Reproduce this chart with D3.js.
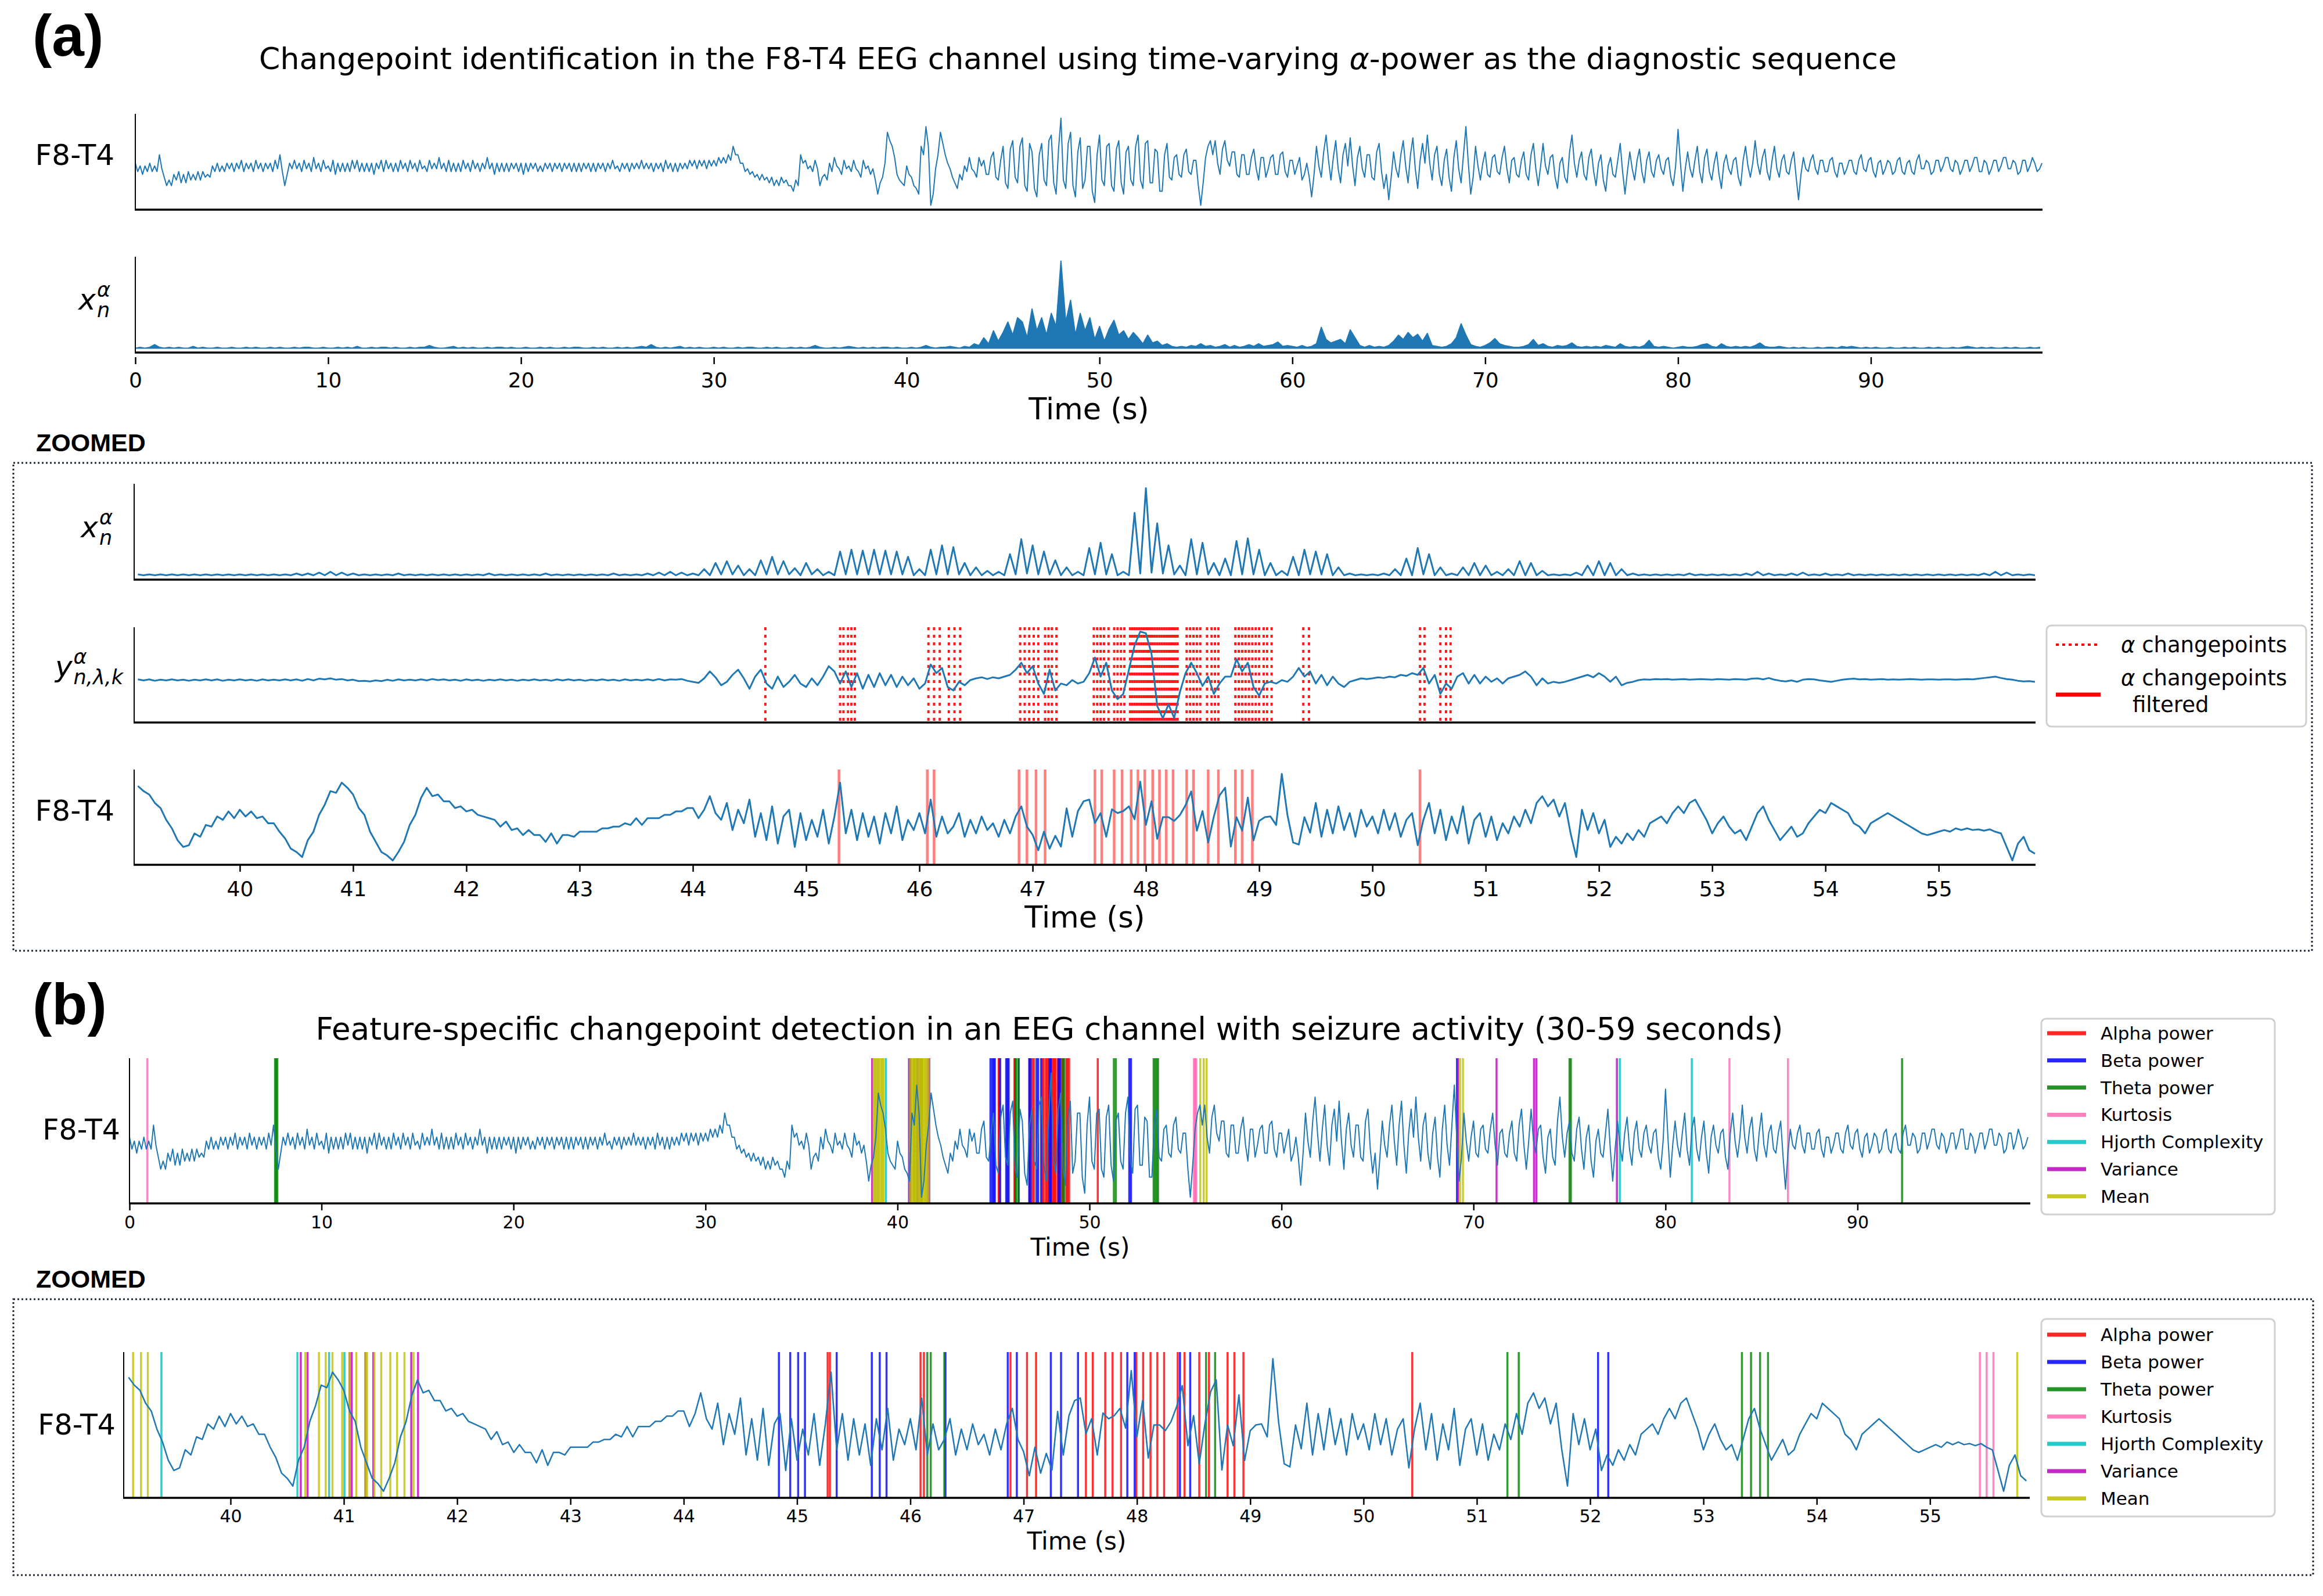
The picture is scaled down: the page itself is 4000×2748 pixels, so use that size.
<!DOCTYPE html>
<html>
<head>
<meta charset="utf-8">
<script src="https://cdnjs.cloudflare.com/ajax/libs/d3/7.8.5/d3.min.js"></script>
<style>
  body { margin: 0; background: #fff; }
  text { font-family: "DejaVu Sans", sans-serif; }
</style>
</head>
<body>
<svg id="chart" width="4000" height="2748"></svg>
<script>
// ---------- data ----------

// full recording, one value every 0.125 s from 0 s (one row of 8 per second)
const fullStart = 0, fullStep = 0.125;
const eegFull = [
  2,-1,1,-2,1,-1,2,-1, 1,-1,5,0,-3,-6,-4,-6, -2,-4,-1,-5,-2,-5,-1,-4, -2,-4,-1,-4,-1,-3,-2,-3,
  1,-1,2,-1,1,-1,2,0, 2,-1,2,0,3,-1,2,0, 2,-1,3,0,2,-1,2,0, 2,-1,3,0,5,-1,-6,-2,
  2,0,3,0,2,-1,3,0, 2,-1,4,0,2,-1,3,0, 1,-1,3,-2,2,-1,2,-1, 2,-1,3,0,3,-1,2,-1,
  2,-1,2,-2,2,0,3,-1, 3,0,2,-1,2,-1,3,0, 2,-1,3,0,2,-1,3,0, 1,-1,3,0,2,0,4,0,
  2,-1,3,-1,2,-1,2,-1, 3,0,2,-1,3,0,2,-1, 2,0,4,0,2,-2,2,-1, 2,-1,2,-1,2,0,2,-1,
  2,-2,2,-1,2,0,2,-1, 1,-1,2,0,2,-1,2,0, 2,-1,2,0,2,-1,2,-1, 2,-1,2,0,2,-1,2,-1,
  2,0,2,-1,2,0,3,0, 1,-1,2,0,2,-1,2,0, 2,0,3,0,2,0,2,-1, 2,0,2,-1,3,0,2,-1,
  2,-1,2,0,2,0,3,1, 3,0,3,1,3,0,3,1, 3,1,4,2,4,2,5,3, 8,5,5,2,2,-1,0,-2,
  -1,-3,-2,-4,-2,-4,-3,-5, -3,-6,-4,-6,-3,-5,-4,-6, -6,-8,-4,-6,5,2,3,0, 1,-1,3,0,-6,-3,-2,-4,
  2,-1,4,1,0,-2,3,0, 1,-1,3,0,-1,-3,3,0, 1,-2,0,-4,-9,-5,-3,2, 13,10,8,4,-2,-4,-5,-6,
  1,-2,-3,-6,-7,-9,8,5, 15,8,-13,-9,0,5,13,9, 5,2,0,-3,-5,-7,-2,-4, 1,-1,4,0,-1,-3,4,1,
  3,-2,-2,4,6,-3,-4,3, 8,-5,-7,7,10,-3,-5,8, 11,-6,-8,9,6,-7,-10,5, 9,-4,-6,10,12,-5,-9,7,
  18,-4,-7,9,13,-6,-10,6, 11,-7,-4,8,8,-8,-12,5, 12,-4,-6,8,9,-6,-8,7, 10,-5,-9,6,8,-4,-6,8,
  12,-4,-7,9,10,-5,-5,7, 6,-8,-8,5,9,-3,-4,4, 5,-2,-3,5,7,-1,-2,3, 3,-6,-13,-5,4,8,10,5,
  10,2,-2,7,10,3,1,6, 6,-2,-3,5,5,-2,-2,4, 7,0,-4,4,4,-3,0,4, 5,-2,-2,5,6,-1,-3,3,
  3,-2,1,4,-4,-2,2,-3, -10,-2,8,1,-3,6,12,3, -4,4,10,0,-5,5,9,1, 11,1,-6,4,8,0,-3,5,
  5,-3,-4,6,9,-1,-7,-2, -11,-3,6,0,-3,5,10,1, -5,5,11,0,-7,3,9,2, 12,2,-4,5,8,-2,-6,3,
  7,-3,-8,4,10,0,-5,5, 15,2,-9,-3,8,1,-4,2, 6,-2,-3,4,5,-1,-2,4, 8,0,-5,3,4,-2,-3,3,
  6,-2,-4,5,9,0,-6,1, 9,1,-2,4,5,-3,-7,2, 4,-3,-5,6,12,2,-3,3, 6,-2,-4,4,7,-1,-6,2,
  5,-4,-8,1,4,-2,-3,3, 9,-1,-9,-1,6,0,-4,3, 7,-1,-5,3,6,-1,-3,3, 5,0,-2,3,4,-3,-6,1,
  14,2,-8,0,6,0,-3,3, 8,-1,-5,4,7,-1,-4,2, 6,-2,-7,2,5,0,-2,3, 4,-3,-6,3,8,1,-3,2,
  10,2,-2,4,7,-1,-4,3, 8,0,-3,3,5,-1,-2,3, 6,-3,-11,-2,4,0,-1,3, 5,0,-2,3,3,-1,-1,3,
  4,-1,-3,2,2,-2,0,3, 3,-1,-2,3,5,0,-1,3, 4,-1,-3,2,3,-2,0,3, 2,-2,-1,3,4,-1,-2,2,
  3,-1,-2,3,5,0,0,3, 2,-2,-1,3,3,-1,1,4, 4,0,-1,3,2,-2,0,3, 3,-1,1,4,4,-1,-1,3,
  2,-2,0,3,3,-1,1,4, 4,0,0,3,2,-2,-1,3, 3,-1,1,4,2,-1,0,2
];
// alpha power over the full recording, one value every 0.25 s from 0 s
const alphaStart = 0, alphaStep = 0.25;
const alphaFull = [
  0,.01,0,.01, .04,.01,0,.01, 0,.01,0,0, .02,0,.01,0, 0,.01,0,0, .01,0,0,.01, 0,.01,0,0, .01,0,.01,0,
  0,.01,0,.01, .01,0,0,.01, 0,0,.01,0, .01,0,.02,0, 0,.01,0,.01, .01,0,.01,0, 0,.01,0,.01, .01,.03,.01,0,
  0,.01,.02,0, .01,0,.01,0, 0,.01,0,.01, .01,0,.01,0, 0,.01,0,0, .01,0,.01,0, 0,.01,0,.01, .01,0,0,.01,
  0,.01,0,0, .01,0,.01,0, .01,.02,.01,.04, .01,0,.01,0, .01,.02,0,.01, 0,.01,0,0, .01,0,.01,0, 0,.01,0,.01,
  .01,0,0,.01, 0,.01,0,0, .01,0,.01,0, .01,.03,.01,0, 0,.01,0,.01, .02,.01,0,.01, 0,.01,0,.01, .01,0,.01,0,
  0,.01,0,.01, .03,.01,0,.01, .01,.02,.01,0, .02,.01,.05,.03, .12,.05,.20,.08, .18,.30,.15,.35, .30,.12,.45,.20, .35,.15,.40,.25,
  1.0,.30,.55,.15, .40,.20,.35,.10, .25,.08,.22,.32, .15,.20,.10,.18, .12,.05,.15,.06, .08,.03,.05,.02, .01,.02,.01,.03, .02,.05,.02,.03,
  .01,.02,.04,.01, .03,.01,.02,.04, .02,.05,.02,.03, .04,.07,.02,.03, .02,.01,.03,.01, .02,.05,.24,.10, .06,.08,.10,.05, .21,.12,.03,.01,
  .03,.01,.02,.01, .03,.08,.15,.10, .18,.12,.16,.08, .17,.03,.02,.01, .02,.05,.12,.28, .15,.04,.02,.01, .03,.06,.11,.05, .03,.02,.01,.01,
  .02,.04,.10,.03, .05,.02,.01,.03, .02,.03,.06,.02, .01,.02,.01,.02, .01,.03,.02,.01, .05,.02,.01,.02, .01,.03,.09,.02, .01,.02,.01,0,
  .01,.02,.01,.01, .02,.04,.05,.02, .01,.05,.02,.01, .02,.01,.02,.01, .03,.06,.02,.01, .01,.02,.01,0, .01,0,.01,0, 0,.01,0,.01,
  .01,0,.02,.01, .02,.01,0,.01, 0,.01,0,0, .01,0,0,.01, 0,.01,0,0, .01,0,.01,0, 0,.01,0,.01, .02,.01,0,.01,
  0,.01,0,0, .01,0,.01,0, 0,.01,0,.01
];

// zoomed window, one value every 0.05 s from 39.10 s
const zoomStart = 39.1, zoomStep = 0.05;
const alphaZoom = [
  .02,.01,.02,.01,.02,.01,.02,.01,.02,.01, .02,.01,.02,.01,.02,.01,.02,.01,.02,.01,
  .02,.01,.02,.01,.02,.01,.02,.01,.03,.01, .03,.01,.04,.01,.05,.01,.04,.01,.03,.01,
  .02,.01,.02,.01,.02,.01,.03,.01,.02,.01, .02,.01,.02,.01,.02,.01,.02,.01,.02,.01,
  .02,.01,.03,.01,.02,.01,.02,.01,.02,.01, .02,.01,.03,.01,.02,.01,.02,.01,.02,.01,
  .02,.01,.02,.01,.03,.01,.02,.01,.02,.01, .03,.01,.04,.01,.05,.01,.04,.01,.03,.01,
  .08,.01,.15,.02,.17,.02,.12,.01,.08,.01, .18,.02,.22,.02,.17,.02,.09,.01,.15,.02,
  .08,.01,.05,.01,.28,.02,.30,.02,.29,.02, .30,.02,.29,.02,.28,.02,.22,.01,.08,.01,
  .30,.02,.35,.02,.33,.02,.15,.01,.10,.01, .06,.01,.05,.01,.25,.02,.42,.03,.35,.02,
  .28,.02,.18,.01,.10,.01,.05,.01,.32,.02, .38,.02,.25,.01,.05,.01,.72,.03,1.0,.04,
  .60,.03,.35,.02,.12,.01,.42,.02,.38,.02, .15,.01,.20,.01,.40,.02,.43,.02,.30,.01,
  .15,.01,.06,.01,.22,.01,.30,.02,.28,.02, .25,.01,.10,.01,.03,.01,.02,.01,.02,.01,
  .03,.01,.08,.01,.20,.01,.32,.02,.25,.01, .10,.01,.03,.01,.10,.01,.15,.01,.12,.01,
  .05,.01,.08,.01,.17,.01,.15,.01,.06,.01, .02,.01,.02,.01,.04,.01,.12,.01,.17,.01,
  .15,.01,.08,.01,.03,.01,.02,.01,.02,.01, .02,.01,.02,.01,.03,.01,.02,.01,.02,.01,
  .02,.01,.02,.01,.03,.01,.05,.01,.03,.01, .02,.01,.03,.01,.04,.01,.02,.01,.03,.01,
  .02,.01,.03,.01,.02,.01,.02,.01,.02,.01, .02,.01,.02,.01,.02,.01,.02,.01,.02,.01,
  .02,.01,.02,.01,.02,.01,.03,.01,.05,.01, .04,.01,.02,.01,.02,.01
];
const diagZoom = [
  .2,-.1,.2,-.2,.1,-.1,.2,-.1,.1,-.2, .1,-.1,.2,-.1,.2,-.2,.1,-.1,.2,-.1,
  .1,-.2,.2,-.1,.1,-.1,.2,-.1,.2,-.2, .3,-.1,.4,.2,.5,.1,.3,-.1,.1,-.3,
  -.2,-.4,-.1,-.3,.1,-.2,.2,-.1,.1,-.1, .2,-.1,.3,0,.2,-.1,.1,-.2,.2,-.1,
  .1,-.2,.1,-.1,.2,-.1,.1,-.2,.1,-.1, .2,-.1,.1,-.2,.2,-.1,.2,-.1,.1,-.2,
  .1,-.1,.2,-.1,.1,-.2,.2,-.1,.1,-.1, .2,-.1,.3,-.1,.2,.1,.3,-.2,-.5,-.8,
  .5,2.5,.8,-1.5,-.5,1.5,3,.5,-2.5,1, 3,-1,-2.5,1,-2,-.5,1.5,-1,-2,.5,
  -1.5,1,4,2.5,-1,2.5,-2,2,-2.5,1.5, -2,2,-1.5,1.5,-2,1,-1.5,.5,-2.5,-1,
  4.5,2,3.5,-2,-3,-.5,-1.5,0,.5,.8, .3,.8,.5,1,1.5,3,5,2,4,-1,
  -4,3,-3,-1,-1.5,0,-1,-.5,2,6.5, 1,5,-3,-5.5,-4,3,10,14,13.5,7.5,
  -7.5,-11,-7,-11,-3.5,2,5,2,-1.7,1, -4,-1,1,1,6,2.5,5,-2,-4.5,-1,
  -.5,-1,0,-.5,1,3.5,1,2.5,-1,1.5, -1.5,1,-1,-2,-.5,0,.5,.3,.5,.8,
  .6,1,.8,1.5,1.2,2,1.5,3.5,-1,1.5, -4,-1,-2.5,1,2,-1,1.5,-1,1,-.5,
  .5,-1,.5,1,1.5,2.5,1,-1.5,.5,-1, -.5,-.8,-.5,0,.5,1,1.5,.8,2,1,
  -.5,1,-1.5,-.8,-.5,0,.2,.1,.3,.2, .3,.1,.2,.3,.1,.2,.3,.2,.1,.3,
  .2,.1,.3,.2,.1,.4,.5,.2,.6,.1, -.2,-.4,-.1,-.5,.1,.3,.2,-.1,-.3,-.5,
  -.2,.1,.3,.4,.2,.3,.1,.2,.3,.1, .2,.1,.2,.3,.2,.1,.2,.2,.1,.2,
  .2,.1,.2,.3,.2,.4,.6,.8,1,.6, .3,.1,-.2,-.4,-.3,-.5
];
const eegZoom = [
  11,9.5,8.5,6,4.5,1,-1.5,-5,-7,-6.5, -3,-4,-.5,-1,2,1,3.5,1.5,4,2,
  3.5,1.5,2,0,0,-2.5,-4.5,-7.5,-8.5,-10, -5,-2.5,2.5,5.5,9.5,9,12,10.5,8.5,4.5,
  2.5,-2.5,-5.5,-8.5,-9.5,-11,-8.5,-5.5,-.5,2.5, 7.5,10.5,8,8.5,6.5,6.5,4.5,5,3.5,4,
  2.5,2,1.5,1,-1,.5,-2,-1.5,-3.5,-2, -3.5,-3.5,-5.5,-3,-6,-3.5,-3.5,-4,-2.5,-2.5,
  -2.5,-2.5,-1.5,-1.5,-1,-1,0,-.5,1.5,-.5, 1.5,1.5,1.5,2.5,2.5,3.5,3.5,4.5,4.5,1.5,
  4,8,3,1,6,-2,4,0,7,-4, 3,-5,5,-6,2,4,-7,3,-5,1,
  -4,4,-6,2,12,-3,4,-5,3,-4, 2,-6,3,-3,5,-5,1,-2,3,-3,
  7,-4,2,-3,-1,3,-4,1,-3,2, -2,0,-4,1,-3,2,5,-1,-3.4,-8,
  -2.5,-7.5,-3.7,-6.9,4.4,-4,3.6,6.5,7,.1, 3,-4,4.1,3,3.6,5,1.2,12.3,-.5,6.5,
  -4.6,1.8,1.8,.7,2.4,5.3,9.4,-2.2,3.6,-5.7, 2,8.2,10.5,-6.9,1.8,-2.2,7.6,-5.1,.7,1.8,
  2,-.5,14.6,2.4,-5.7,-6.3,1.8,-2.8,6,-4, 4,-3,5,-2,3,-4,4,-1,2,-3,
  4,-2,3,-4,1,3,-6.5,1,6,-3, 4,-5,2,-3,5,-6,1,3,-4,2,
  -5,0,-3,2,-1,4,0,6,8,5, 7,2,6,-3,-10,4,-2,3,-3,1,
  -7,-4,-6,-3,-5,-2,-4,0,1,2, 0,3,5,3,6,7,4,1,-3,0,
  2,-1,-3,-2,-5,-1,3,5,1,-2, -5,-3,-1,-4,-3,0,2,4,3,6,
  5,4,3,0,-1,-3,0,1,2,3, 2,1,0,-1,-2,-3,-3.5,-3,-2.5,-2,
  -2.5,-1.5,-2,-1.5,-2,-1.8,-2.2,-1.8,-2.5,-3, -7,-11,-6,-4,-8,-9
];

// alpha-power changepoints (s)
const alphaChangepoints = [
  44.64, 45.30, 45.33, 45.37, 45.40, 45.43, 46.08, 46.13, 46.18, 46.26, 46.31, 46.36,
  46.89, 46.93, 46.97, 47.01, 47.05, 47.11, 47.14, 47.17, 47.21,
  47.54, 47.57, 47.60, 47.63, 47.67, 47.72, 47.75, 47.78, 47.81,
  47.86, 47.88, 47.90, 47.92, 47.94, 47.96, 47.98, 48.00, 48.02, 48.04, 48.06, 48.08,
  48.10, 48.12, 48.14, 48.16, 48.18, 48.20, 48.22, 48.24, 48.26, 48.28,
  48.36, 48.39, 48.42, 48.45, 48.48, 48.54, 48.58, 48.61, 48.64,
  48.79, 48.82, 48.85, 48.88, 48.91, 48.94, 48.97, 49.00, 49.04, 49.07, 49.11,
  49.39, 49.44, 50.42, 50.46, 50.60, 50.65, 50.69
];
const alphaFiltered = [
  45.29, 46.07, 46.13, 46.88, 46.95, 47.03, 47.11, 47.55, 47.61, 47.72, 47.79, 47.87, 47.93,
  47.99, 48.06, 48.12, 48.18, 48.24, 48.36, 48.42, 48.55, 48.64, 48.79, 48.85, 48.94, 50.42
];

// feature-specific changepoints (s)
const featureNames = ["Alpha power", "Beta power", "Theta power", "Kurtosis", "Hjorth Complexity", "Variance", "Mean"];
const cpAlphaPower = [45.27, 45.29, 46.09, 46.12, 46.884, 47.03, 47.11, 47.55, 47.61, 47.72, 47.785, 47.86,
  47.995, 48.055, 48.12, 48.18, 48.24, 48.36, 48.42, 48.55, 48.636, 48.80, 48.86, 48.94, 50.43];
const cpBetaPower = [44.84, 44.94, 45.01, 45.07, 45.35, 45.66, 45.73, 45.79, 46.31, 46.86, 46.94, 47.24,
  47.33, 47.48, 47.915, 47.98, 48.38, 48.47, 52.07, 52.16, 69.14];
const cpThetaPower = [7.58, 7.64, 7.70, 46.15, 46.18, 46.30, 48.61, 48.69, 51.27, 51.37, 53.34, 53.42,
  53.50, 53.57, 75.00, 75.07, 92.32];
const cpKurtosis = [0.93, 55.44, 55.50, 55.56, 83.33, 86.38];
const cpHjorth = [39.39, 40.59, 40.87, 41.005, 77.62, 81.37];
const cpVariance = [38.68, 40.62, 40.68, 41.05, 41.07, 41.19, 41.26, 41.595, 41.655, 69.20, 71.20, 73.15, 73.27, 77.47];
const cpMean = [38.76, 38.82, 38.88, 38.94, 39.00, 39.05, 39.14, 39.21, 39.27, 40.66, 40.78, 40.84, 40.90,
  40.985, 41.05, 41.11, 41.19, 41.205, 41.27, 41.33, 41.41, 41.47, 41.535, 41.615, 55.77, 55.95, 56.10, 69.30, 69.45];

const fullTicks = [0, 10, 20, 30, 40, 50, 60, 70, 80, 90];
const zoomTicks = [40, 41, 42, 43, 44, 45, 46, 47, 48, 49, 50, 51, 52, 53, 54, 55];

// ---------- drawing ----------
const svg = d3.select('#chart');
const FONT = '"DejaVu Sans", sans-serif';
const BOLD = '"Liberation Sans", Arial, sans-serif';
const traceColor = '#1f77b4';
const featureColors = ['#ff0000', '#0000ff', '#008000', '#ff69b4', '#00bfbf', '#bf00bf', '#bfbf00'];
const featureCps = [cpAlphaPower, cpBetaPower, cpThetaPower, cpKurtosis, cpHjorth, cpVariance, cpMean];

svg.append('rect').attr('width', 4000).attr('height', 2748).attr('fill', '#fff');

function points(vals, t0, dt) {
  return vals.map((v, i) => ({t: t0 + i * dt, v: v}));
}

function makePanel(b, xDom, vals, padLo = 0.05, padHi = 0.05) {
  const x = d3.scaleLinear().domain(xDom).range([b.x0, b.x1]);
  const [lo, hi] = d3.extent(vals);
  const r = hi - lo;
  const y = d3.scaleLinear().domain([lo - r * padLo, hi + r * padHi]).range([b.y1, b.y0]);
  return {x, y, b, g: svg.append('g')};
}

function drawSpines(p) {
  p.g.append('line').attr('x1', p.b.x0).attr('x2', p.b.x0).attr('y1', p.b.y0).attr('y2', p.b.y1)
    .attr('stroke', '#000').attr('stroke-width', 2);
  p.g.append('line').attr('x1', p.b.x0 - 1).attr('x2', p.b.x1).attr('y1', p.b.y1).attr('y2', p.b.y1)
    .attr('stroke', '#000').attr('stroke-width', 3.5);
}

function drawXAxis(p, ticks, fs, pad, gap) {
  const axis = d3.axisBottom(p.x).tickValues(ticks).tickSize(12).tickPadding(pad).tickFormat(d3.format('d'));
  const a = p.g.append('g').attr('transform', `translate(0,${p.b.y1 + gap})`).call(axis);
  a.select('.domain').remove();
  a.selectAll('.tick line').attr('stroke', '#000').attr('stroke-width', 2.5);
  a.selectAll('.tick text').attr('fill', '#000').style('font-size', fs + 'px').style('font-family', FONT);
}

function drawTrace(p, pts, width) {
  const line = d3.line().x(d => p.x(d.t)).y(d => p.y(d.v));
  p.g.append('path').datum(pts).attr('d', line).attr('fill', 'none')
    .attr('stroke', traceColor).attr('stroke-width', width).attr('stroke-linejoin', 'round');
}

function drawVLines(p, times, color, width, opacity, dash) {
  const [d0, d1] = p.x.domain();
  p.g.append('g').selectAll('line').data(times.filter(t => t >= d0 && t <= d1)).join('line')
    .attr('x1', d => p.x(d)).attr('x2', d => p.x(d))
    .attr('y1', p.b.y0).attr('y2', p.b.y1)
    .attr('stroke', color).attr('stroke-width', width).attr('stroke-opacity', opacity)
    .attr('stroke-dasharray', dash || null);
}

function label(text, right, base, size) {
  svg.append('text').attr('x', right).attr('y', base).attr('text-anchor', 'end')
    .style('font-size', size + 'px').text(text);
}

function mathLabel(right, base, main, sup, sub, size) {
  const g = svg.append('g').style('font-style', 'italic');
  const ss = size * 0.7;
  const m = g.append('text').attr('y', base).style('font-size', size + 'px').text(main);
  const a = g.append('text').attr('y', base - size * 0.44).style('font-size', ss + 'px').text(sup);
  const s = g.append('text').attr('y', base + size * 0.26).style('font-size', ss + 'px').text(sub);
  const w = Math.max(a.node().getComputedTextLength(), s.node().getComputedTextLength());
  const mw = m.node().getComputedTextLength();
  a.attr('x', right - w);
  s.attr('x', right - w);
  m.attr('x', right - w - mw - 2);
}

function xLabel(cx, base, size) {
  svg.append('text').attr('x', cx).attr('y', base).attr('text-anchor', 'middle')
    .style('font-size', size + 'px').text('Time (s)');
}

function titleWithAlpha(cx, base, size, before, after) {
  const t = svg.append('text').attr('x', cx).attr('y', base).attr('text-anchor', 'middle')
    .style('font-size', size + 'px');
  t.append('tspan').text(before);
  if (after !== undefined) {
    t.append('tspan').style('font-style', 'italic').text('α');
    t.append('tspan').text(after);
  }
}

function boldText(text, x, base, size) {
  svg.append('text').attr('x', x).attr('y', base).style('font-family', BOLD)
    .style('font-weight', 'bold').style('font-size', size + 'px').text(text);
}

function dottedBox(x, y, w, h) {
  svg.append('rect').attr('x', x).attr('y', y).attr('width', w).attr('height', h)
    .attr('fill', 'none').attr('stroke', '#1c2833').attr('stroke-width', 3).attr('stroke-dasharray', '3 4');
}

// ===== (a) =====
boldText('(a)', 56, 96, 100);
titleWithAlpha(1856, 119, 52, 'Changepoint identification in the F8-T4 EEG channel using time-varying ', '-power as the diagnostic sequence');

const eegFullPts = points(eegFull, fullStart, fullStep);
const alphaFullPts = points(alphaFull, alphaStart, alphaStep);

const pA1 = makePanel({x0: 233, x1: 3517, y0: 196, y1: 361}, [0, 98.9], eegFull);
drawTrace(pA1, eegFullPts, 2);
drawSpines(pA1);
label('F8-T4', 197, 284, 50);

const pA2 = makePanel({x0: 233, x1: 3517, y0: 442, y1: 607}, [0, 98.9], alphaFull);
pA2.g.append('path').datum(alphaFullPts)
  .attr('d', d3.area().x(d => pA2.x(d.t)).y0(pA2.y(0)).y1(d => pA2.y(d.v)))
  .attr('fill', traceColor).attr('stroke', traceColor).attr('stroke-width', 2).attr('stroke-linejoin', 'round');
drawSpines(pA2);
drawXAxis(pA2, fullTicks, 36, 14, 8);
mathLabel(190, 533, 'x', 'α', 'n', 50);
xLabel(1875, 722, 51);

// zoomed (a)
boldText('ZOOMED', 62, 777, 43);
dottedBox(23, 797, 3958, 840);
const zoomDomA = [39.067, 55.855];
const alphaZoomPts = points(alphaZoom, zoomStart, zoomStep);
const diagZoomPts = points(diagZoom, zoomStart, zoomStep);
const eegZoomPts = points(eegZoom, zoomStart, zoomStep);

const pZ1 = makePanel({x0: 231, x1: 3505, y0: 833, y1: 998}, zoomDomA, alphaZoom);
drawTrace(pZ1, alphaZoomPts, 3);
drawSpines(pZ1);
mathLabel(194, 925, 'x', 'α', 'n', 50);

const pZ2 = makePanel({x0: 231, x1: 3505, y0: 1080, y1: 1244}, zoomDomA, diagZoom);
drawVLines(pZ2, alphaChangepoints, '#ff0000', 4, 0.9, '5 8');
drawTrace(pZ2, diagZoomPts, 3);
drawSpines(pZ2);
mathLabel(212, 1165, 'y', 'α', 'n,λ,k', 50);

const pZ3 = makePanel({x0: 231, x1: 3505, y0: 1325, y1: 1489}, zoomDomA, eegZoom);
drawVLines(pZ3, alphaFiltered, '#ff0000', 4.5, 0.5);
drawTrace(pZ3, eegZoomPts, 3);
drawSpines(pZ3);
drawXAxis(pZ3, zoomTicks, 36, 16, 0);
label('F8-T4', 197, 1413, 50);
xLabel(1868, 1597, 51);

// legend (a)
const lgA = svg.append('g');
lgA.append('rect').attr('x', 3524).attr('y', 1077).attr('width', 447).attr('height', 174).attr('rx', 8)
  .attr('fill', '#fff').attr('stroke', '#d0d0d0').attr('stroke-width', 3);
lgA.append('line').attr('x1', 3540).attr('x2', 3617).attr('y1', 1110).attr('y2', 1110)
  .attr('stroke', '#ff0000').attr('stroke-width', 4).attr('stroke-dasharray', '5 6');
lgA.append('line').attr('x1', 3540).attr('x2', 3617).attr('y1', 1196).attr('y2', 1196)
  .attr('stroke', '#ff0000').attr('stroke-width', 7);
[[3652, 1123, 'α', ' changepoints'], [3652, 1180, 'α', ' changepoints'], [3672, 1226, '', 'filtered']].forEach(([xx, yy, a, rest]) => {
  const t = lgA.append('text').attr('x', xx).attr('y', yy).style('font-size', '37px');
  if (a) t.append('tspan').style('font-style', 'italic').text(a);
  t.append('tspan').text(rest);
});

// ===== (b) =====
boldText('(b)', 56, 1764, 100);
titleWithAlpha(1807, 1790, 53, 'Feature-specific changepoint detection in an EEG channel with seizure activity (30-59 seconds)');

function featureLegend(y0, h, row0, step) {
  const g = svg.append('g');
  g.append('rect').attr('x', 3515).attr('y', y0).attr('width', 402).attr('height', h).attr('rx', 8)
    .attr('fill', '#fff').attr('stroke', '#d0d0d0').attr('stroke-width', 3);
  featureNames.forEach((name, i) => {
    const yy = row0 + i * step;
    g.append('line').attr('x1', 3525).attr('x2', 3592).attr('y1', yy).attr('y2', yy)
      .attr('stroke', featureColors[i]).attr('stroke-width', 7).attr('stroke-opacity', 0.85);
    g.append('text').attr('x', 3617).attr('y', yy + 11).style('font-size', '31px').text(name);
  });
}

const pB1 = makePanel({x0: 223, x1: 3496, y0: 1822, y1: 2072}, [0, 99.0], eegFull, 0.05, 0.12);
featureCps.forEach((cps, i) => drawVLines(pB1, cps, featureColors[i], 3.5, 0.8));
drawTrace(pB1, eegFullPts, 2);
drawSpines(pB1);
drawXAxis(pB1, fullTicks, 30, 10, 0);
label('F8-T4', 207, 1962, 49);
xLabel(1860, 2162, 42);
featureLegend(1754, 337, 1779, 46.8);

boldText('ZOOMED', 62, 2217, 43);
dottedBox(23, 2237, 3960, 475);
const pBZ = makePanel({x0: 213, x1: 3495, y0: 2328, y1: 2579}, [39.057, 55.88], eegZoom);
featureCps.forEach((cps, i) => drawVLines(pBZ, cps, featureColors[i], 3.5, 0.8));
drawTrace(pBZ, eegZoomPts, 2.5);
drawSpines(pBZ);
drawXAxis(pBZ, zoomTicks, 30, 9, 0);
label('F8-T4', 199, 2470, 49);
xLabel(1854, 2668, 42);
featureLegend(2271, 340, 2298, 47);
</script>
</body>
</html>
